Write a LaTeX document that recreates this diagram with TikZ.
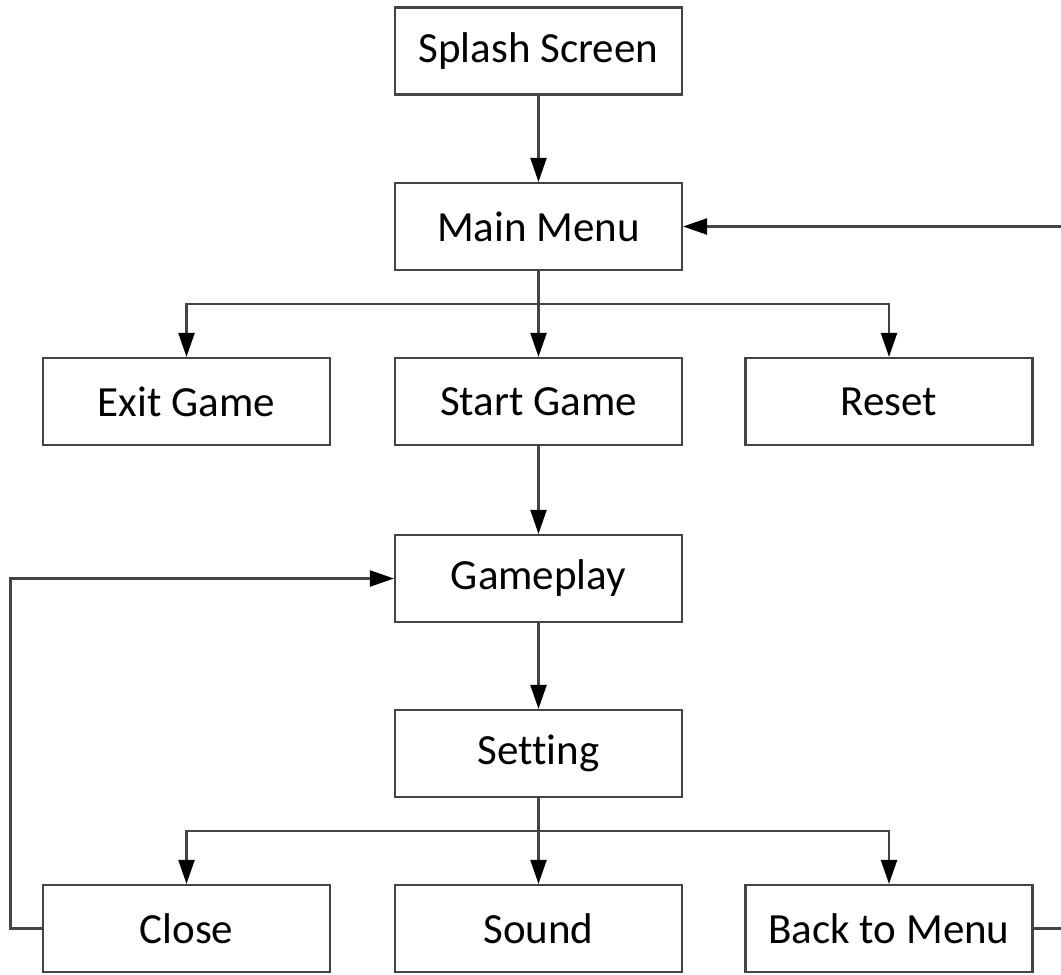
\documentclass[tikz,border=0pt]{standalone}
\usepackage{fontspec}
\setmainfont{Carlito}[Ligatures={NoCommon}]
\usetikzlibrary{arrows.meta}

\definecolor{edgegray}{HTML}{444444}

\tikzset{
  screen/.style={draw=edgegray, line width=2.2pt, fill=white,
    minimum width=287pt, minimum height=87pt, inner sep=0pt,
    font=\fontsize{43}{48}\selectfont, text=black},
  flow/.style={draw=edgegray, line width=2.2pt,
    -{Triangle[length=24pt,width=16pt,color=black]}}
}

\begin{document}
\begin{tikzpicture}[x=1pt,y=-1pt]
  \useasboundingbox (0,0) rectangle (1061,975);

  % screens
  \node[screen] (splash) at (538.5,51)    {Splash Screen};
  \node[screen] (main)   at (538.5,226.5) {Main Menu};
  \node[screen] (exit)   at (186.5,401.5) {Exit Game};
  \node[screen] (start)  at (538.5,401.5) {Start Game};
  \node[screen] (reset)  at (889,401.5)   {Reset};
  \node[screen] (play)   at (538.5,578.5) {Gameplay};
  \node[screen] (set)    at (538.5,753.5) {Setting};
  \node[screen] (close)  at (186.5,928.5) {Close};
  \node[screen] (sound)  at (538.5,928.5) {Sound};
  \node[screen] (back)   at (889,928.5)   {Back to Menu};

  % branch points and return-path corners
  \coordinate (menusplit) at (538.5,304);
  \coordinate (setsplit)  at (538.5,831);
  \coordinate (leftrail)  at (10.5,750);
  \coordinate (rightrail) at (1066,600);

  % main flow
  \draw[flow] (splash.south) -- (main.north);
  \draw[flow] (main.south) -- (start.north);
  \draw[flow] (menusplit) -| (exit.north);
  \draw[flow] (menusplit) -| (reset.north);
  \draw[flow] (start.south) -- (play.north);
  \draw[flow] (play.south) -- (set.north);
  \draw[flow] (set.south) -- (sound.north);
  \draw[flow] (setsplit) -| (close.north);
  \draw[flow] (setsplit) -| (back.north);

  % return paths
  \draw[flow] (close.west) -| (leftrail) |- (play.west);
  \draw[flow] (back.east) -| (rightrail) |- (main.east);
\end{tikzpicture}
\end{document}
